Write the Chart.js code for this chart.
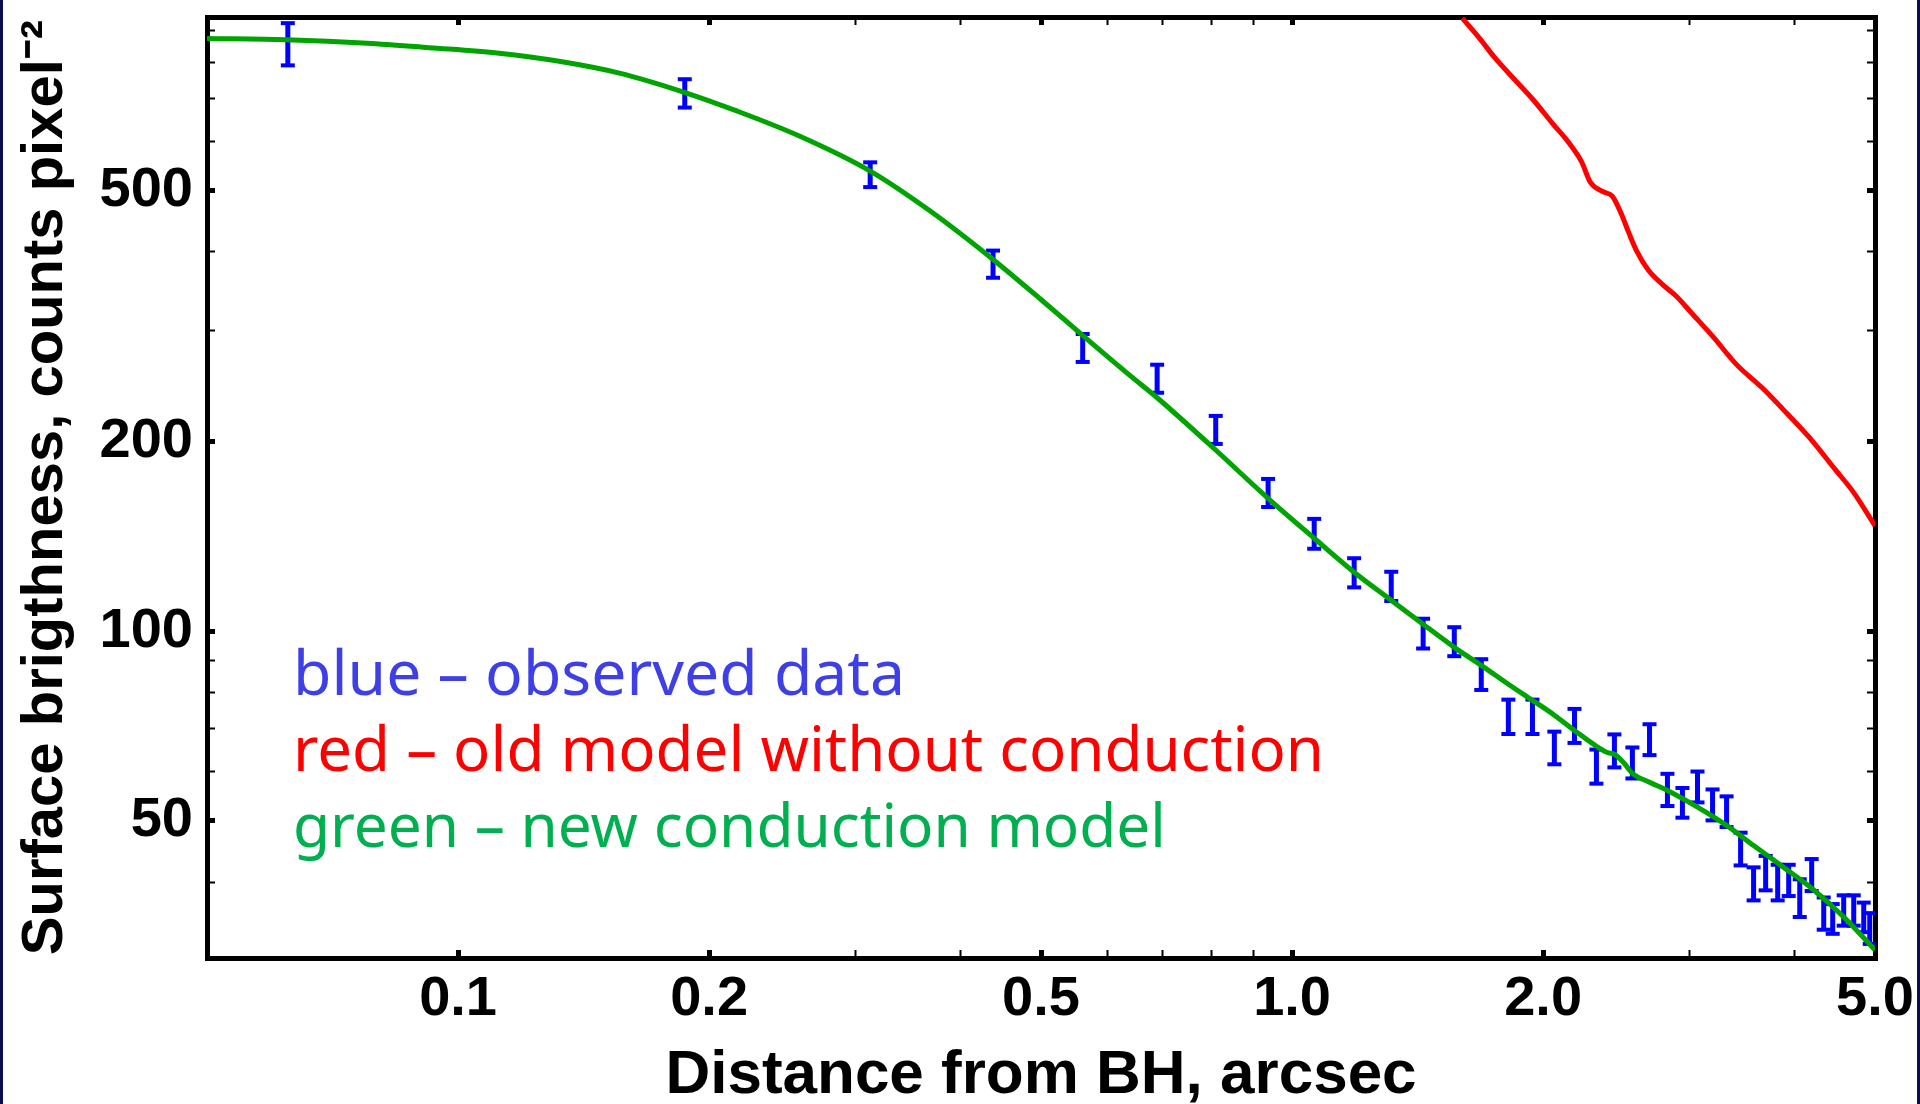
<!DOCTYPE html>
<html>
<head>
<meta charset="utf-8">
<script src="https://cdn.jsdelivr.net/npm/chart.js@4.4.1/dist/chart.umd.min.js"></script>
<style>
html,body{margin:0;padding:0;background:#ffffff;overflow:hidden}
#wrap{position:relative;width:1920px;height:1104px;background:#ffffff}
canvas{display:block}
.edge{position:absolute;top:0;width:3px;height:1104px;background:#0b0b50}
.note{position:absolute;left:293px;top:0;white-space:nowrap;font-family:'Noto Sans',sans-serif;font-weight:400;line-height:1}
.bl{display:inline-block;width:0;height:0}
</style>
</head>
<body>
<div id="wrap">
  <canvas id="c" width="1920" height="1104"></canvas>
  <div class="edge" style="left:0"></div>
  <div class="edge" style="right:0"></div>
  <div class="note" id="n1" style="color:#3f3fe6">blue – observed data<span class="bl"></span></div>
  <div class="note" id="n2" style="color:#ff0000">red – old model without conduction<span class="bl"></span></div>
  <div class="note" id="n3" style="color:#00b050">green – new conduction model<span class="bl"></span></div>
</div>
<script>
// ---------- data ----------
const obsX = [0.0625, 0.187, 0.312, 0.438, 0.561, 0.689, 0.810, 0.936, 1.063, 1.187, 1.315, 1.436, 1.565, 1.686, 1.817, 1.942, 2.063, 2.181, 2.317, 2.435, 2.559, 2.683, 2.819, 2.938, 3.063, 3.193, 3.319, 3.450, 3.576, 3.697, 3.822, 3.940, 4.062, 4.198, 4.340, 4.449, 4.586, 4.715, 4.847, 4.928];
const obsY = [857, 715, 531, 383, 282, 252, 209, 166, 143, 124, 118, 99.3, 96.4, 85.5, 73.3, 73.3, 65.4, 70.9, 61.1, 64.7, 61.9, 67.4, 56.1, 53.5, 56.7, 53.1, 51.8, 45.2, 39.8, 41.4, 40.0, 40.3, 37.8, 41.1, 35.7, 35.0, 36.1, 36.1, 35.2, 33.8];
const obsErr = [66, 37, 24, 19, 14.4, 12.9, 10.7, 8.5, 7.8, 6.6, 6.3, 5.4, 5.1, 4.8, 4.6, 4.6, 3.9, 4.4, 3.8, 3.9, 3.5, 3.8, 3.3, 2.9, 3.2, 3.0, 2.9, 2.7, 2.4, 2.6, 2.6, 2.3, 2.6, 2.4, 2.1, 1.9, 2.0, 2.0, 1.9, 1.9];

const newModelX = [0.05, 0.0622, 0.0778, 0.0923, 0.1120, 0.1322, 0.1561, 0.1867, 0.215, 0.2566, 0.3124, 0.3686, 0.4376, 0.4995, 0.5626, 0.6390, 0.6885, 0.8104, 0.9358, 1.063, 1.187, 1.315, 1.436, 1.565, 1.686, 1.817, 1.942, 2.063, 2.181, 2.317, 2.388, 2.435, 2.497, 2.559, 2.683, 2.819, 3.063, 3.319, 3.576, 3.885, 4.198, 4.586, 5.0];
const newModelY = [873, 869, 858, 844, 827, 803, 769, 717, 671, 611, 537, 464, 389.5, 336.5, 293.9, 254.8, 235, 193.8, 162.6, 140.5, 124.1, 112.0, 102.6, 94.3, 88.3, 82.4, 77.7, 73.6, 69.6, 65.7, 64.2, 63.8, 61.9, 59.5, 57.6, 55.9, 52.6, 49.2, 45.7, 42.2, 39.1, 35.2, 31.2];

const oldModelX = [1.60, 1.682, 1.748, 1.847, 1.947, 2.052, 2.150, 2.223, 2.279, 2.356, 2.422, 2.483, 2.532, 2.588, 2.675, 2.782, 2.891, 3.013, 3.193, 3.412, 3.667, 3.917, 4.185, 4.474, 4.715, 5.0];
const oldModelY = [940, 870, 815, 752, 697, 640, 595, 557, 516, 499, 490, 459, 430, 402, 374, 355, 340, 320, 294, 265, 243, 222, 202, 181, 166, 147];

const xMajor = [0.1, 0.2, 0.5, 1, 2, 5];
const xTickLabels = ['0.1', '0.2', '0.5', '1.0', '2.0', '5.0'];
const xMinor = [0.3, 0.4, 0.6, 0.7, 0.8, 0.9, 3, 4];
const yMajor = [50, 100, 200, 500];
const yTickLabels = ['50', '100', '200', '500'];
const yMinor = [40, 60, 70, 80, 90, 300, 400, 600, 700, 800, 900];
const xRange = [0.05, 5.0];
const yRange = [30.3, 944];

// ---------- helpers ----------
const same = (a, b) => Math.abs(a - b) < 1e-9 * Math.max(1, Math.abs(b));
const idxIn = (arr, v) => arr.findIndex(m => same(m, v));
const xTicks = xMajor.concat(xMinor).sort((a, b) => a - b);
const yTicks = yMajor.concat(yMinor).sort((a, b) => a - b);
const setTicks = list => s => { s.ticks = list.map(v => ({ value: v })); };
const zeroPad = s => { s.paddingLeft = 0; s.paddingRight = 0; s.paddingTop = 0; s.paddingBottom = 0; };

const FAM = "'Liberation Sans', Arial, Helvetica, sans-serif";
const tickFont = { family: FAM, size: 56, weight: 'bold', lineHeight: 1.2 };

function gridFor(major) {
  return {
    drawOnChartArea: false,
    drawTicks: true,
    tickLength: -8,
    tickColor: '#000000',
    tickWidth: ctx => (ctx.tick && idxIn(major, ctx.tick.value) >= 0) ? 5 : 2
  };
}
const border = { display: true, color: '#000000', width: 5 };

// error bar segments (stem from lo to hi, gap between bars)
const errData = [];
obsX.forEach((x, i) => {
  errData.push({ x: x, y: obsY[i] - obsErr[i] });
  errData.push({ x: x, y: obsY[i] + obsErr[i] });
  errData.push({ x: x, y: null });
});

const datasets = [
  {
    label: 'green - new conduction model',
    type: 'line',
    data: newModelX.map((x, i) => ({ x: x, y: newModelY[i] })),
    borderColor: '#00a400',
    borderWidth: 5,
    pointRadius: 0,
    cubicInterpolationMode: 'monotone',
    fill: false,
    order: 0
  },
  {
    label: 'blue - observed data',
    type: 'line',
    data: errData,
    borderColor: '#0000ff',
    borderWidth: 5,
    borderCapStyle: 'butt',
    spanGaps: false,
    tension: 0,
    pointStyle: 'line',
    pointRadius: 7,
    pointBorderWidth: 4,
    pointBorderColor: '#0000ff',
    pointBackgroundColor: '#0000ff',
    pointHoverRadius: 7,
    fill: false,
    order: 1
  },
  {
    label: 'red - old model without conduction',
    type: 'line',
    data: oldModelX.map((x, i) => ({ x: x, y: oldModelY[i] })),
    borderColor: '#ff0000',
    borderWidth: 5,
    pointRadius: 0,
    cubicInterpolationMode: 'monotone',
    fill: false,
    order: 2
  }
];

new Chart(document.getElementById('c').getContext('2d'), {
  type: 'line',
  data: { datasets: datasets },
  options: {
    responsive: false,
    animation: false,
    devicePixelRatio: 1,
    events: [],
    layout: { padding: 0 },
    plugins: { legend: { display: false }, tooltip: { enabled: false }, title: { display: false } },
    scales: {
      x: {
        type: 'logarithmic', position: 'bottom', min: xRange[0], max: xRange[1],
        afterBuildTicks: setTicks(xTicks),
        afterFit: s => { s.height = 146; zeroPad(s); },
        ticks: {
          autoSkip: false, maxRotation: 0, minRotation: 0, padding: 16, color: '#000000', font: tickFont,
          callback: v => { const k = idxIn(xMajor, v); return k >= 0 ? xTickLabels[k] : ''; }
        },
        grid: gridFor(xMajor),
        border: border,
        title: {
          display: true, text: 'Distance from BH, arcsec', color: '#000000',
          font: { family: FAM, size: 62, weight: 'bold', lineHeight: 0.9 },
          padding: { top: 0, bottom: 0 }
        }
      },
      y: {
        type: 'logarithmic', position: 'left', min: yRange[0], max: yRange[1],
        afterBuildTicks: setTicks(yTicks),
        afterFit: s => { s.width = 207; zeroPad(s); },
        ticks: {
          autoSkip: false, padding: 22, color: '#000000', font: tickFont,
          callback: v => { const k = idxIn(yMajor, v); return k >= 0 ? yTickLabels[k] : ''; }
        },
        grid: gridFor(yMajor),
        border: border,
        title: {
          display: true, text: 'Surface brigthness, counts pixel\u207B\u00B2', color: '#000000',
          font: { family: FAM, size: 58, weight: 'bold', lineHeight: 1 },
          padding: { top: 17, bottom: 0 }
        }
      },
      x2: {
        type: 'logarithmic', position: 'top', min: xRange[0], max: xRange[1],
        afterBuildTicks: setTicks(xTicks),
        afterFit: s => { s.height = 17; zeroPad(s); },
        ticks: { display: false, autoSkip: false },
        grid: gridFor(xMajor),
        border: border
      },
      y2: {
        type: 'logarithmic', position: 'right', min: yRange[0], max: yRange[1],
        afterBuildTicks: setTicks(yTicks),
        afterFit: s => { s.width = 45; zeroPad(s); },
        ticks: { display: false, autoSkip: false },
        grid: gridFor(yMajor),
        border: border
      }
    }
  }
});

// ---------- annotation text placement ----------
const notes = [
  { id: 'n1', width: 612, baseline: 695 },
  { id: 'n2', width: 1031, baseline: 771 },
  { id: 'n3', width: 873, baseline: 847 }
];
function placeNotes() {
  notes.forEach(n => {
    const el = document.getElementById(n.id);
    el.style.fontSize = '60px';
    const w = el.getBoundingClientRect().width;
    el.style.fontSize = (60 * n.width / w).toFixed(2) + 'px';
    const off = el.querySelector('.bl').offsetTop;
    el.style.top = (n.baseline - off) + 'px';
  });
}
placeNotes();
if (document.fonts && document.fonts.ready) document.fonts.ready.then(placeNotes);
</script>
</body>
</html>
